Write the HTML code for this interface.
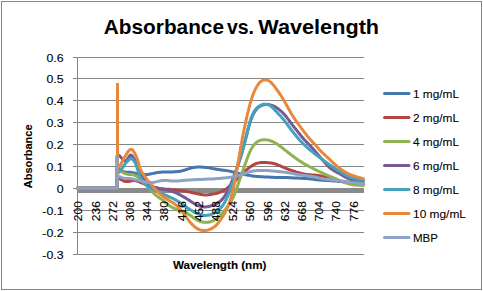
<!DOCTYPE html>
<html><head><meta charset="utf-8"><style>
html,body{margin:0;padding:0;background:#fff;width:483px;height:291px;overflow:hidden}
svg{display:block;font-family:"Liberation Sans", sans-serif}
</style></head><body>
<svg width="483" height="291" viewBox="0 0 483 291">
<rect x="0" y="0" width="483" height="291" fill="#fff"/>
<rect x="1.5" y="1.5" width="480" height="288" fill="none" stroke="#868686" stroke-width="1"/>
<line x1="73" y1="57.5" x2="364" y2="57.5" stroke="#868686" stroke-width="1"/>
<line x1="73" y1="78.5" x2="364" y2="78.5" stroke="#868686" stroke-width="1"/>
<line x1="73" y1="100.5" x2="364" y2="100.5" stroke="#868686" stroke-width="1"/>
<line x1="73" y1="122.5" x2="364" y2="122.5" stroke="#868686" stroke-width="1"/>
<line x1="73" y1="144.5" x2="364" y2="144.5" stroke="#868686" stroke-width="1"/>
<line x1="73" y1="166.5" x2="364" y2="166.5" stroke="#868686" stroke-width="1"/>
<line x1="73" y1="188.5" x2="364" y2="188.5" stroke="#868686" stroke-width="1"/>
<line x1="73" y1="210.5" x2="364" y2="210.5" stroke="#868686" stroke-width="1"/>
<line x1="73" y1="232.5" x2="364" y2="232.5" stroke="#868686" stroke-width="1"/>
<line x1="73" y1="254.5" x2="364" y2="254.5" stroke="#868686" stroke-width="1"/>
<line x1="77.5" y1="57" x2="77.5" y2="255" stroke="#868686" stroke-width="1"/>
<text transform="translate(63.5 61.5) scale(1.1 1)" font-size="11.2" text-anchor="end" fill="#000" stroke="#000" stroke-width="0.12">0.6</text>
<text transform="translate(63.5 82.5) scale(1.1 1)" font-size="11.2" text-anchor="end" fill="#000" stroke="#000" stroke-width="0.12">0.5</text>
<text transform="translate(63.5 104.5) scale(1.1 1)" font-size="11.2" text-anchor="end" fill="#000" stroke="#000" stroke-width="0.12">0.4</text>
<text transform="translate(63.5 126.5) scale(1.1 1)" font-size="11.2" text-anchor="end" fill="#000" stroke="#000" stroke-width="0.12">0.3</text>
<text transform="translate(63.5 148.5) scale(1.1 1)" font-size="11.2" text-anchor="end" fill="#000" stroke="#000" stroke-width="0.12">0.2</text>
<text transform="translate(63.5 170.5) scale(1.1 1)" font-size="11.2" text-anchor="end" fill="#000" stroke="#000" stroke-width="0.12">0.1</text>
<text transform="translate(63.5 192.5) scale(1.1 1)" font-size="11.2" text-anchor="end" fill="#000" stroke="#000" stroke-width="0.12">0</text>
<text transform="translate(63.5 214.5) scale(1.1 1)" font-size="11.2" text-anchor="end" fill="#000" stroke="#000" stroke-width="0.12">-0.1</text>
<text transform="translate(63.5 236.5) scale(1.1 1)" font-size="11.2" text-anchor="end" fill="#000" stroke="#000" stroke-width="0.12">-0.2</text>
<text transform="translate(63.5 258.5) scale(1.1 1)" font-size="11.2" text-anchor="end" fill="#000" stroke="#000" stroke-width="0.12">-0.3</text>
<rect x="78" y="188.0" width="286" height="5.0" fill="#8A8A8A"/>
<path d="M77.5 188 L117 188 L117 167 L118.5 168.0 119.2 168.7 120.2 169.6 121.2 170.3 122.2 171.0 123.2 171.5 124.2 171.9 125.2 172.1 126.2 172.2 127.2 172.3 128.2 172.3 129.2 172.3 130.2 172.3 131.2 172.4 132.2 172.6 133.2 172.8 134.2 173.0 135.2 173.2 136.2 173.4 137.2 173.6 138.2 173.8 139.2 174.0 140.2 174.2 141.2 174.4 142.2 174.5 143.2 174.6 144.2 174.7 145.2 174.7 146.2 174.6 147.2 174.5 148.2 174.4 149.2 174.2 150.2 174.0 151.2 173.8 152.2 173.6 153.2 173.4 154.2 173.2 155.2 173.0 156.2 172.8 157.2 172.6 158.2 172.5 159.2 172.3 160.2 172.2 161.2 172.2 162.2 172.1 163.2 172.0 164.2 172.0 165.2 172.0 166.2 172.0 167.2 171.9 168.2 171.9 169.2 171.9 170.2 171.9 171.2 171.9 172.2 171.9 173.2 171.8 174.2 171.8 175.2 171.8 176.2 171.7 177.2 171.6 178.2 171.5 179.2 171.4 180.2 171.2 181.2 171.0 182.2 170.7 183.2 170.5 184.2 170.2 185.2 169.9 186.2 169.5 187.2 169.2 188.2 168.9 189.2 168.6 190.2 168.3 191.2 168.0 192.2 167.8 193.2 167.6 194.2 167.4 195.2 167.3 196.2 167.2 197.2 167.1 198.2 167.1 199.2 167.1 200.2 167.1 201.2 167.1 202.2 167.2 203.2 167.2 204.2 167.3 205.2 167.4 206.2 167.5 207.2 167.6 208.2 167.7 209.2 167.9 210.2 168.1 211.2 168.3 212.2 168.4 213.2 168.6 214.2 168.8 215.2 169.0 216.2 169.2 217.2 169.3 218.2 169.5 219.2 169.6 220.2 169.8 221.2 169.9 222.2 170.0 223.2 170.2 224.2 170.3 225.2 170.4 226.2 170.6 227.2 170.7 228.2 170.9 229.2 171.1 230.2 171.3 231.2 171.5 232.2 171.8 233.2 172.0 234.2 172.2 235.2 172.5 236.2 172.7 237.2 172.9 238.2 173.2 239.2 173.4 240.2 173.6 241.2 173.8 242.2 174.0 243.2 174.2 244.2 174.4 245.2 174.6 246.2 174.8 247.2 175.0 248.2 175.2 249.2 175.4 250.2 175.6 251.2 175.7 252.2 175.9 253.2 176.0 254.2 176.2 255.2 176.3 256.2 176.4 257.2 176.5 258.2 176.6 259.2 176.6 260.2 176.7 261.2 176.7 262.2 176.8 263.2 176.8 264.2 176.9 265.2 176.9 266.2 177.0 267.2 177.0 268.2 177.1 269.2 177.1 270.2 177.2 271.2 177.2 272.2 177.3 273.2 177.3 274.2 177.4 275.2 177.4 276.2 177.4 277.2 177.4 278.2 177.5 279.2 177.5 280.2 177.5 281.2 177.5 282.2 177.5 283.2 177.5 284.2 177.6 285.2 177.6 286.2 177.6 287.2 177.6 288.2 177.6 289.2 177.7 290.2 177.7 291.2 177.8 292.2 177.8 293.2 177.9 294.2 177.9 295.2 177.9 296.2 178.0 297.2 178.1 298.2 178.1 299.2 178.2 300.2 178.2 301.2 178.3 302.2 178.3 303.2 178.4 304.2 178.4 305.2 178.5 306.2 178.5 307.2 178.6 308.2 178.7 309.2 178.8 310.2 178.9 311.2 179.0 312.2 179.1 313.2 179.3 314.2 179.4 315.2 179.5 316.2 179.7 317.2 179.8 318.2 179.9 319.2 180.0 320.2 180.0 321.2 180.1 322.2 180.2 323.2 180.2 324.2 180.3 325.2 180.4 326.2 180.4 327.2 180.5 328.2 180.5 329.2 180.6 330.2 180.7 331.2 180.7 332.2 180.8 333.2 180.9 334.2 181.0 335.2 181.0 336.2 181.1 337.2 181.2 338.2 181.3 339.2 181.4 340.2 181.5 341.2 181.6 342.2 181.7 343.2 181.8 344.2 181.9 345.2 182.1 346.2 182.2 347.2 182.3 348.2 182.4 349.2 182.5 350.2 182.6 351.2 182.7 352.2 182.8 353.2 182.9 354.2 183.1 355.2 183.2 356.2 183.3 357.2 183.4 358.2 183.5 359.2 183.6 360.2 183.7 361.2 183.8 362.2 183.9 363.2 184.0" fill="none" stroke="#4676B0" stroke-width="3" stroke-linejoin="round" stroke-linecap="round"/>
<path d="M77.5 188 L117 188 L117 178 L119.8 178.9 120.8 179.5 121.8 180.0 122.8 180.5 123.8 181.0 124.8 181.3 125.8 181.4 126.8 181.5 127.8 181.5 128.8 181.4 129.8 181.2 130.8 181.0 131.8 180.8 132.8 180.6 133.8 180.6 134.8 180.6 135.8 180.8 136.8 181.0 137.8 181.3 138.8 181.7 139.8 182.1 140.8 182.5 141.8 183.0 142.8 183.4 143.8 183.8 144.8 184.1 145.8 184.5 146.8 184.8 147.8 185.2 148.8 185.5 149.8 185.9 150.8 186.3 151.8 186.6 152.8 186.9 153.8 187.3 154.8 187.6 155.8 187.8 156.8 188.1 157.8 188.3 158.8 188.5 159.8 188.7 160.8 188.8 161.8 188.9 162.8 189.0 163.8 189.1 164.8 189.2 165.8 189.2 166.8 189.2 167.8 189.2 168.8 189.3 169.8 189.3 170.8 189.4 171.8 189.5 172.8 189.7 173.8 189.8 174.8 190.0 175.8 190.1 176.8 190.3 177.8 190.4 178.8 190.5 179.8 190.6 180.8 190.6 181.8 190.7 182.8 190.9 183.8 191.0 184.8 191.1 185.8 191.3 186.8 191.5 187.8 191.7 188.8 191.9 189.8 192.1 190.8 192.3 191.8 192.6 192.8 192.8 193.8 193.0 194.8 193.2 195.8 193.4 196.8 193.7 197.8 193.9 198.8 194.1 199.8 194.3 200.8 194.5 201.8 194.6 202.8 194.8 203.8 194.8 204.8 194.9 205.8 194.9 206.8 194.9 207.8 194.8 208.8 194.7 209.8 194.6 210.8 194.5 211.8 194.3 212.8 194.1 213.8 193.9 214.8 193.7 215.8 193.5 216.8 193.2 217.8 193.0 218.8 192.6 219.8 192.3 220.8 191.9 221.8 191.5 222.8 191.0 223.8 190.4 224.8 189.8 225.8 189.2 226.8 188.5 227.8 187.7 228.8 186.9 229.8 186.0 230.6 185.4 231.3 184.7 232.1 184.0 232.8 183.2 233.6 182.5 234.3 181.7 235.1 181.0 235.8 180.2 236.6 179.4 237.3 178.7 238.1 177.9 238.8 177.1 239.6 176.4 240.3 175.6 241.1 174.9 241.8 174.1 242.6 173.4 243.3 172.7 244.1 172.0 244.8 171.3 245.8 170.4 246.8 169.6 247.8 168.8 248.8 168.0 249.8 167.3 250.8 166.6 251.8 165.9 252.8 165.3 253.8 164.7 254.8 164.2 255.8 163.7 256.8 163.4 257.8 163.1 258.8 162.9 259.8 162.7 260.8 162.6 261.8 162.6 262.8 162.5 263.8 162.5 264.8 162.5 265.8 162.6 266.8 162.6 267.8 162.7 268.8 162.8 269.8 162.9 270.8 163.0 271.8 163.1 272.8 163.3 273.8 163.6 274.8 163.8 275.8 164.1 276.8 164.5 277.8 164.9 278.8 165.3 279.8 165.7 280.8 166.1 281.8 166.6 282.8 167.0 283.8 167.4 284.8 167.9 285.8 168.3 286.8 168.7 287.8 169.1 288.8 169.5 289.8 169.8 290.8 170.2 291.8 170.5 292.8 170.9 293.8 171.2 294.8 171.5 295.8 171.9 296.8 172.2 297.8 172.5 298.8 172.7 299.8 173.0 300.8 173.3 301.8 173.5 302.8 173.7 303.8 173.9 304.8 174.1 305.8 174.3 306.8 174.4 307.8 174.6 308.8 174.7 309.8 174.8 310.8 174.8 311.8 174.9 312.8 175.0 313.8 175.0 314.8 175.1 315.8 175.2 316.8 175.3 317.8 175.4 318.8 175.6 319.8 175.7 320.8 175.9 321.8 176.2 322.8 176.4 323.8 176.6 324.8 176.9 325.8 177.2 326.8 177.4 327.8 177.7 328.8 178.0 329.8 178.3 330.8 178.6 331.8 178.9 332.8 179.2 333.8 179.5 334.8 179.8 335.8 180.0 336.8 180.3 337.8 180.5 338.8 180.8 339.8 181.0 340.8 181.2 341.8 181.3 342.8 181.5 343.8 181.7 344.8 181.8 345.8 181.9 346.8 182.0 347.8 182.2 348.8 182.3 349.8 182.4 350.8 182.5 351.8 182.6 352.8 182.7 353.8 182.7 354.8 182.8 355.8 182.9 356.8 183.0 357.8 183.1 358.8 183.2 359.8 183.2 360.8 183.3 361.8 183.4 362.8 183.5 363.3 183.5" fill="none" stroke="#B44542" stroke-width="3" stroke-linejoin="round" stroke-linecap="round"/>
<path d="M77.5 188 L117 188 L117 169 L119.8 170.6 120.8 171.3 121.8 171.9 122.8 172.5 123.8 173.0 124.8 173.5 125.8 173.8 126.8 174.1 127.8 174.3 128.8 174.4 129.8 174.5 130.8 174.5 131.8 174.6 132.8 174.7 133.8 175.0 134.8 175.4 135.8 175.8 136.8 176.4 137.8 177.2 138.8 178.0 139.6 178.6 140.3 179.3 141.1 180.1 141.8 180.8 142.6 181.5 143.3 182.3 144.1 183.0 144.8 183.7 145.6 184.5 146.3 185.2 147.1 186.0 147.8 186.8 148.6 187.7 149.3 188.5 150.1 189.4 150.8 190.2 151.6 191.0 152.3 191.8 153.1 192.6 153.8 193.3 154.6 194.0 155.3 194.7 156.3 195.6 157.3 196.3 158.3 197.1 159.3 197.8 160.3 198.4 161.3 199.1 162.3 199.9 163.3 200.7 164.3 201.5 165.3 202.3 166.3 203.2 167.3 204.0 168.3 204.8 169.3 205.6 170.3 206.3 171.3 206.9 172.3 207.5 173.3 207.9 174.3 208.4 175.3 208.8 176.3 209.1 177.3 209.4 178.3 209.8 179.3 210.1 180.3 210.4 181.3 210.7 182.3 211.1 183.3 211.5 184.3 211.9 185.3 212.4 186.3 212.9 187.3 213.5 188.3 214.1 189.3 214.7 190.3 215.4 191.3 216.1 192.3 216.8 193.3 217.6 194.3 218.3 195.3 219.0 196.3 219.6 197.3 220.2 198.3 220.7 199.3 221.1 200.3 221.5 201.3 221.8 202.3 222.0 203.3 222.2 204.3 222.3 205.3 222.3 206.3 222.3 207.3 222.3 208.3 222.2 209.3 222.0 210.3 221.8 211.3 221.4 212.3 221.1 213.3 220.6 214.3 220.1 215.3 219.5 216.3 218.9 217.3 218.1 218.3 217.3 219.1 216.6 219.8 215.8 220.6 215.1 221.3 214.2 222.1 213.4 222.8 212.5 223.6 211.6 224.3 210.7 225.1 209.8 225.8 208.9 226.6 207.9 227.3 206.9 228.1 205.9 228.8 204.8 229.6 203.7 230.3 202.5 231.1 201.3 231.6 200.4 232.1 199.4 232.6 198.5 233.1 197.5 233.6 196.4 234.1 195.3 234.6 194.1 235.1 192.8 235.6 191.5 236.1 190.2 236.6 188.8 237.1 187.3 237.6 185.9 238.1 184.4 238.6 182.9 239.1 181.4 239.6 179.9 240.1 178.5 240.6 177.1 241.1 175.6 241.6 174.2 242.1 172.8 242.6 171.4 243.1 170.0 243.6 168.6 244.1 167.2 244.6 165.7 245.1 164.3 245.6 162.9 246.1 161.5 246.6 160.1 247.1 158.7 247.6 157.3 248.1 156.0 248.6 154.8 249.1 153.6 249.6 152.4 250.1 151.3 250.6 150.3 251.1 149.3 251.6 148.4 252.3 147.2 253.1 146.1 253.8 145.1 254.6 144.2 255.3 143.4 256.1 142.7 257.1 142.0 258.1 141.3 259.1 140.8 260.1 140.4 261.1 140.1 262.1 139.9 263.1 139.8 264.1 139.7 265.1 139.7 266.1 139.8 267.1 139.9 268.1 140.1 269.1 140.3 270.1 140.6 271.1 141.0 272.1 141.4 273.1 141.9 274.1 142.4 275.1 142.9 276.1 143.5 277.1 144.1 278.1 144.8 279.1 145.5 280.1 146.2 281.1 146.9 282.1 147.7 283.1 148.5 284.1 149.3 285.1 150.1 286.1 150.9 287.1 151.7 288.1 152.5 289.1 153.3 290.1 154.0 291.1 154.8 292.1 155.6 293.1 156.3 294.1 157.0 295.1 157.8 296.1 158.5 297.1 159.2 298.1 159.9 299.1 160.6 300.1 161.2 301.1 161.8 302.1 162.5 303.1 163.1 304.1 163.7 305.1 164.3 306.1 164.8 307.1 165.4 308.1 165.9 309.1 166.5 310.1 167.0 311.1 167.5 312.1 168.0 313.1 168.5 314.1 169.1 315.1 169.6 316.1 170.1 317.1 170.5 318.1 171.0 319.1 171.5 320.1 172.0 321.1 172.4 322.1 172.9 323.1 173.4 324.1 173.8 325.1 174.3 326.1 174.7 327.1 175.1 328.1 175.6 329.1 176.0 330.1 176.4 331.1 176.8 332.1 177.2 333.1 177.6 334.1 178.1 335.1 178.5 336.1 178.9 337.1 179.3 338.1 179.8 339.1 180.2 340.1 180.7 341.1 181.1 342.1 181.5 343.1 181.9 344.1 182.3 345.1 182.7 346.1 183.0 347.1 183.3 348.1 183.6 349.1 183.9 350.1 184.2 351.1 184.4 352.1 184.6 353.1 184.7 354.1 184.9 355.1 185.0 356.1 185.1 357.1 185.2 358.1 185.2 359.1 185.3 360.1 185.3 361.1 185.4 362.1 185.4 363.1 185.4 363.3 185.4" fill="none" stroke="#90B250" stroke-width="3" stroke-linejoin="round" stroke-linecap="round"/>
<path d="M77.5 188 L117 188 L117 156 L119.3 155.6 120.0 156.4 120.8 157.1 121.5 158.0 122.3 158.8 123.0 159.7 123.8 160.5 124.8 161.0 125.8 160.9 126.8 160.0 127.5 159.0 128.3 157.8 129.1 156.6 129.8 155.5 130.8 154.9 131.8 155.5 132.6 156.5 133.3 157.6 134.1 158.7 134.8 159.9 135.6 161.1 136.3 162.4 136.8 163.4 137.3 164.3 137.8 165.4 138.3 166.5 138.8 167.7 139.3 168.9 139.8 170.1 140.3 171.3 140.8 172.5 141.3 173.7 141.8 174.8 142.3 175.9 142.8 176.9 143.3 177.8 143.8 178.7 144.6 179.9 145.3 180.9 146.1 181.8 146.8 182.6 147.6 183.3 148.6 184.1 149.6 184.8 150.6 185.4 151.6 186.0 152.6 186.5 153.6 186.8 154.6 187.2 155.6 187.4 156.6 187.7 157.6 187.9 158.6 188.2 159.6 188.4 160.6 188.6 161.6 188.8 162.6 189.0 163.6 189.1 164.6 189.3 165.6 189.6 166.6 189.8 167.6 190.0 168.6 190.3 169.6 190.6 170.6 190.9 171.6 191.2 172.6 191.6 173.6 191.9 174.6 192.3 175.6 192.7 176.6 193.2 177.6 193.6 178.6 194.1 179.6 194.6 180.6 195.1 181.6 195.7 182.6 196.3 183.6 196.8 184.6 197.4 185.6 198.0 186.6 198.7 187.6 199.3 188.6 199.9 189.6 200.6 190.6 201.3 191.6 201.9 192.6 202.6 193.6 203.2 194.6 203.8 195.6 204.4 196.6 204.9 197.6 205.3 198.6 205.7 199.6 206.1 200.6 206.4 201.6 206.6 202.6 206.7 203.6 206.8 204.6 206.9 205.6 206.9 206.6 206.8 207.6 206.7 208.6 206.5 209.6 206.3 210.6 206.0 211.6 205.8 212.6 205.4 213.6 205.1 214.6 204.7 215.6 204.2 216.6 203.7 217.6 203.1 218.6 202.5 219.6 201.8 220.6 200.9 221.3 200.2 222.1 199.5 222.8 198.6 223.6 197.7 224.3 196.7 225.1 195.6 225.8 194.4 226.6 193.1 227.1 192.2 227.6 191.2 228.1 190.2 228.6 189.1 229.1 188.0 229.6 186.9 230.1 185.7 230.6 184.5 231.1 183.3 231.6 182.0 232.1 180.8 232.6 179.5 233.1 178.2 233.6 176.8 234.1 175.5 234.6 174.2 235.1 172.8 235.6 171.5 236.1 170.2 236.6 168.9 237.1 167.5 237.6 166.2 238.1 164.8 238.6 163.4 239.1 161.9 239.6 160.4 240.1 158.9 240.6 157.3 241.1 155.7 241.6 154.0 242.1 152.2 242.6 150.4 243.1 148.5 243.6 146.6 244.1 144.7 244.3 143.7 244.6 142.7 244.8 141.7 245.1 140.7 245.3 139.8 245.6 138.8 245.8 137.8 246.1 136.8 246.3 135.8 246.6 134.9 247.1 132.9 247.6 131.1 248.1 129.2 248.6 127.4 249.1 125.7 249.6 124.0 250.1 122.4 250.6 120.9 251.1 119.5 251.6 118.2 252.1 117.0 252.6 115.8 253.1 114.7 253.6 113.7 254.1 112.8 254.8 111.5 255.6 110.4 256.3 109.4 257.1 108.6 257.8 107.8 258.8 107.0 259.8 106.3 260.8 105.8 261.8 105.3 262.8 105.0 263.8 104.7 264.8 104.6 265.8 104.5 266.8 104.4 267.8 104.5 268.8 104.6 269.8 104.8 270.8 105.1 271.8 105.4 272.8 105.7 273.8 106.2 274.8 106.7 275.8 107.2 276.8 107.9 277.8 108.6 278.8 109.3 279.8 110.1 280.8 111.0 281.6 111.6 282.3 112.3 283.1 113.1 283.8 113.9 284.6 114.7 285.3 115.5 286.1 116.4 286.8 117.4 287.6 118.4 288.3 119.4 289.1 120.4 289.8 121.5 290.6 122.5 291.3 123.5 292.1 124.5 292.8 125.5 293.6 126.4 294.3 127.4 295.1 128.3 295.8 129.3 296.6 130.2 297.3 131.1 298.1 132.1 298.8 133.0 299.6 134.0 300.3 134.9 301.1 135.8 301.8 136.8 302.6 137.6 303.3 138.5 304.1 139.4 304.8 140.2 305.6 141.0 306.3 141.8 307.1 142.5 307.8 143.3 308.6 144.1 309.3 144.8 310.1 145.6 310.8 146.4 311.6 147.2 312.3 148.0 313.1 148.9 313.8 149.7 314.6 150.6 315.3 151.5 316.1 152.4 316.8 153.3 317.6 154.2 318.3 155.1 319.1 156.0 319.8 156.9 320.6 157.7 321.3 158.6 322.1 159.4 322.8 160.2 323.6 161.1 324.3 161.9 325.1 162.7 325.8 163.6 326.6 164.4 327.3 165.3 328.1 166.1 328.8 166.8 329.6 167.5 330.6 168.4 331.6 169.1 332.6 169.8 333.6 170.4 334.6 171.0 335.6 171.6 336.6 172.1 337.6 172.7 338.6 173.2 339.6 173.7 340.6 174.3 341.6 174.9 342.6 175.5 343.6 176.1 344.6 176.6 345.6 177.2 346.6 177.7 347.6 178.2 348.6 178.7 349.6 179.1 350.6 179.4 351.6 179.8 352.6 180.0 353.6 180.3 354.6 180.4 355.6 180.6 356.6 180.7 357.6 180.8 358.6 180.9 359.6 181.0 360.6 181.0 361.6 181.1 362.6 181.1 363.3 181.1" fill="none" stroke="#765A98" stroke-width="3" stroke-linejoin="round" stroke-linecap="round"/>
<path d="M77.5 188 L117 188 L117 171 L119.0 172.3 119.8 171.4 120.5 170.5 121.2 169.5 122.0 168.5 122.8 167.4 123.5 166.3 124.2 165.1 125.0 164.0 125.8 163.1 126.5 162.2 127.2 161.4 128.0 160.6 128.8 159.9 129.5 159.2 130.5 158.6 131.5 158.6 132.5 159.3 133.2 160.1 134.0 161.0 134.8 162.1 135.2 163.0 135.8 164.1 136.2 165.4 136.8 166.8 137.2 168.4 137.8 170.1 138.2 171.7 138.8 173.2 139.2 174.5 139.8 175.8 140.2 176.9 140.8 178.0 141.2 178.9 141.8 179.8 142.5 180.9 143.2 182.0 144.0 182.9 144.8 183.7 145.5 184.5 146.2 185.1 147.2 186.0 148.2 186.7 149.2 187.4 150.2 188.0 151.2 188.5 152.2 189.1 153.2 189.6 154.2 190.0 155.2 190.5 156.2 190.9 157.2 191.4 158.2 191.9 159.2 192.3 160.2 192.8 161.2 193.3 162.2 193.8 163.2 194.2 164.2 194.7 165.2 195.1 166.2 195.5 167.2 195.9 168.2 196.4 169.2 196.8 170.2 197.3 171.2 197.7 172.2 198.2 173.2 198.7 174.2 199.2 175.2 199.8 176.2 200.3 177.2 200.9 178.2 201.5 179.2 202.1 180.2 202.8 181.2 203.5 182.2 204.1 183.2 204.8 184.2 205.5 185.2 206.3 186.2 207.0 187.2 207.7 188.2 208.4 189.2 209.0 190.2 209.7 191.2 210.3 192.2 210.9 193.2 211.5 194.2 212.0 195.2 212.6 196.2 213.1 197.2 213.5 198.2 214.0 199.2 214.4 200.2 214.7 201.2 215.0 202.2 215.2 203.2 215.3 204.2 215.4 205.2 215.4 206.2 215.4 207.2 215.3 208.2 215.2 209.2 215.0 210.2 214.8 211.2 214.5 212.2 214.1 213.2 213.7 214.2 213.2 215.2 212.7 216.2 212.0 217.2 211.3 218.2 210.5 219.0 209.8 219.8 209.1 220.5 208.3 221.2 207.4 222.0 206.5 222.8 205.4 223.5 204.3 224.2 203.1 224.8 202.2 225.2 201.3 225.8 200.3 226.2 199.3 226.8 198.2 227.2 197.1 227.8 196.0 228.2 194.8 228.8 193.5 229.2 192.2 229.8 190.8 230.2 189.4 230.8 188.0 231.2 186.6 231.8 185.1 232.2 183.6 232.8 182.1 233.2 180.6 233.8 179.0 234.2 177.4 234.8 175.8 235.2 174.1 235.8 172.5 236.2 170.8 236.8 169.0 237.2 167.3 237.8 165.6 238.2 163.8 238.8 162.1 239.2 160.4 239.8 158.8 240.2 157.1 240.8 155.5 241.2 153.9 241.8 152.4 242.2 150.8 242.8 149.2 243.2 147.6 243.8 146.0 244.2 144.3 244.8 142.5 245.2 140.6 245.8 138.7 246.0 137.7 246.2 136.7 246.5 135.6 246.8 134.6 247.0 133.6 247.2 132.5 247.5 131.5 247.8 130.4 248.0 129.4 248.2 128.3 248.5 127.3 248.8 126.3 249.0 125.3 249.5 123.5 250.0 121.7 250.5 120.0 251.0 118.5 251.5 117.1 252.0 115.8 252.5 114.7 253.0 113.6 253.5 112.6 254.0 111.7 254.8 110.6 255.5 109.6 256.2 108.7 257.0 107.9 257.8 107.3 258.8 106.5 259.8 105.9 260.8 105.3 261.8 104.9 262.8 104.5 263.8 104.3 264.8 104.2 265.8 104.2 266.8 104.3 267.8 104.6 268.8 105.0 269.8 105.5 270.8 106.1 271.8 106.9 272.5 107.6 273.2 108.3 274.0 109.1 274.8 109.9 275.5 110.7 276.2 111.5 277.0 112.3 277.8 113.1 278.5 113.9 279.2 114.7 280.0 115.5 280.8 116.3 281.5 117.1 282.2 118.0 283.0 118.9 283.8 119.8 284.5 120.7 285.2 121.7 286.0 122.7 286.8 123.7 287.5 124.7 288.2 125.8 289.0 126.8 289.8 127.8 290.5 128.8 291.2 129.8 292.0 130.8 292.8 131.7 293.5 132.7 294.2 133.6 295.0 134.6 295.8 135.5 296.5 136.4 297.2 137.3 298.0 138.2 298.8 139.0 299.5 139.9 300.2 140.7 301.0 141.5 301.8 142.3 302.5 143.1 303.2 143.8 304.0 144.6 304.8 145.3 305.5 146.0 306.2 146.7 307.0 147.4 307.8 148.0 308.8 148.9 309.8 149.8 310.8 150.6 311.8 151.4 312.8 152.2 313.8 153.0 314.8 153.8 315.8 154.6 316.8 155.4 317.8 156.1 318.8 156.9 319.8 157.6 320.8 158.3 321.8 159.1 322.8 159.8 323.8 160.5 324.8 161.2 325.8 162.0 326.8 162.7 327.8 163.4 328.8 164.2 329.8 164.9 330.8 165.6 331.8 166.3 332.8 167.1 333.8 167.8 334.8 168.4 335.8 169.1 336.8 169.7 337.8 170.4 338.8 171.0 339.8 171.6 340.8 172.2 341.8 172.8 342.8 173.4 343.8 174.0 344.8 174.6 345.8 175.1 346.8 175.7 347.8 176.2 348.8 176.7 349.8 177.1 350.8 177.5 351.8 177.9 352.8 178.2 353.8 178.5 354.8 178.8 355.8 179.0 356.8 179.2 357.8 179.4 358.8 179.6 359.8 179.7 360.8 179.8 361.8 180.0 362.8 180.1 363.2 180.1" fill="none" stroke="#43A2BC" stroke-width="3" stroke-linejoin="round" stroke-linecap="round"/>
<path d="M77.5 188 L117 188 L117.5 166 L119.3 166.5 120.0 165.3 120.8 164.1 121.3 163.2 121.8 162.3 122.3 161.3 122.8 160.4 123.3 159.5 124.0 158.2 124.8 157.0 125.5 155.7 126.3 154.4 127.0 153.2 127.8 152.0 128.6 151.0 129.3 150.2 130.3 149.4 131.3 149.3 132.3 149.8 133.1 150.6 133.8 151.7 134.6 153.0 135.1 153.9 135.6 154.9 136.1 156.0 136.6 157.2 137.1 158.5 137.6 160.0 138.1 161.6 138.6 163.3 139.1 165.1 139.6 166.7 140.1 168.2 140.6 169.5 141.1 170.6 141.6 171.6 142.1 172.5 142.8 173.6 143.6 174.7 144.3 175.8 145.1 176.8 145.8 177.8 146.6 178.8 147.3 179.9 148.1 180.9 148.8 181.8 149.6 182.7 150.3 183.5 151.1 184.4 151.8 185.2 152.6 186.1 153.3 186.9 154.1 187.8 154.8 188.7 155.6 189.6 156.3 190.4 157.1 191.2 157.8 192.0 158.6 192.7 159.3 193.4 160.1 194.1 161.1 194.9 162.1 195.7 163.1 196.5 164.1 197.2 165.1 197.9 166.1 198.6 167.1 199.2 168.1 199.9 169.1 200.5 170.1 201.1 171.1 201.7 172.1 202.3 173.1 202.9 174.1 203.6 175.1 204.3 176.1 205.1 177.1 206.0 177.8 206.7 178.6 207.5 179.3 208.3 180.1 209.2 180.8 210.1 181.6 211.0 182.3 212.0 183.1 212.9 183.8 213.9 184.6 215.0 185.3 216.0 186.1 217.0 186.8 218.0 187.6 219.0 188.3 220.0 189.1 220.9 189.8 221.9 190.6 222.7 191.3 223.6 192.1 224.4 192.8 225.1 193.6 225.8 194.3 226.5 195.3 227.3 196.3 228.0 197.3 228.7 198.3 229.2 199.3 229.6 200.3 230.0 201.3 230.3 202.3 230.5 203.3 230.6 204.3 230.6 205.3 230.5 206.3 230.4 207.3 230.2 208.3 229.9 209.3 229.5 210.3 229.1 211.3 228.7 212.3 228.1 213.3 227.5 214.3 226.8 215.3 226.0 216.1 225.3 216.8 224.6 217.6 223.8 218.3 222.9 219.1 222.0 219.8 221.0 220.6 219.9 221.3 218.8 222.1 217.6 222.8 216.4 223.6 215.1 224.1 214.2 224.6 213.3 225.1 212.3 225.6 211.3 226.1 210.3 226.6 209.3 227.1 208.2 227.6 207.1 228.1 205.9 228.6 204.6 229.1 203.3 229.6 201.9 230.1 200.4 230.6 198.9 231.1 197.2 231.6 195.4 232.1 193.6 232.3 192.6 232.6 191.6 232.8 190.5 233.1 189.5 233.3 188.4 233.6 187.3 233.8 186.1 234.1 184.9 234.3 183.7 234.6 182.4 234.8 181.2 235.1 179.9 235.3 178.5 235.6 177.2 235.8 175.8 236.1 174.4 236.3 172.9 236.6 171.5 236.8 170.0 237.1 168.6 237.3 167.1 237.6 165.6 237.8 164.1 238.1 162.6 238.3 161.1 238.6 159.7 238.8 158.2 239.1 156.7 239.3 155.3 239.6 153.8 239.8 152.4 240.1 151.0 240.3 149.5 240.6 148.1 240.8 146.7 241.1 145.3 241.3 143.9 241.6 142.5 241.8 141.2 242.1 139.8 242.3 138.5 242.6 137.2 242.8 135.9 243.1 134.6 243.3 133.3 243.6 132.0 243.8 130.8 244.1 129.6 244.3 128.3 244.6 127.1 244.8 126.0 245.1 124.8 245.3 123.6 245.6 122.5 245.8 121.3 246.1 120.2 246.3 119.1 246.6 118.0 246.8 116.9 247.1 115.8 247.3 114.8 247.6 113.7 247.8 112.7 248.1 111.6 248.3 110.6 248.6 109.6 248.8 108.7 249.3 106.7 249.8 104.9 250.3 103.1 250.8 101.4 251.3 99.7 251.8 98.2 252.3 96.7 252.8 95.3 253.3 93.9 253.8 92.7 254.3 91.5 254.8 90.3 255.3 89.3 255.8 88.3 256.3 87.3 256.8 86.5 257.6 85.3 258.3 84.2 259.1 83.3 259.8 82.4 260.6 81.8 261.6 81.0 262.6 80.4 263.6 80.1 264.6 79.9 265.6 79.9 266.6 80.0 267.6 80.3 268.6 80.7 269.6 81.3 270.6 82.1 271.3 82.8 272.1 83.5 272.8 84.4 273.6 85.3 274.3 86.2 275.1 87.2 275.8 88.3 276.6 89.3 277.3 90.3 278.1 91.4 278.8 92.5 279.6 93.6 280.3 94.7 281.1 95.8 281.8 97.0 282.6 98.2 283.3 99.4 284.1 100.7 284.6 101.6 285.1 102.5 285.6 103.4 286.1 104.3 286.6 105.2 287.1 106.1 287.6 107.0 288.1 107.9 288.6 108.8 289.1 109.7 289.6 110.6 290.1 111.5 290.8 112.8 291.6 114.0 292.3 115.2 293.1 116.4 293.8 117.6 294.6 118.7 295.3 119.8 296.1 120.9 296.8 122.0 297.6 123.1 298.3 124.1 299.1 125.1 299.8 126.1 300.6 127.1 301.3 128.1 302.1 129.1 302.8 130.1 303.6 131.1 304.3 132.1 305.1 133.1 305.8 134.1 306.6 135.0 307.3 136.0 308.1 136.9 308.8 137.8 309.6 138.7 310.3 139.5 311.1 140.3 311.8 141.1 312.6 141.9 313.3 142.7 314.1 143.5 314.8 144.4 315.6 145.2 316.3 146.0 317.1 146.9 317.8 147.7 318.6 148.6 319.3 149.5 320.1 150.3 320.8 151.1 321.6 151.9 322.3 152.6 323.1 153.3 323.8 154.0 324.6 154.7 325.3 155.4 326.1 156.1 326.8 156.8 327.6 157.5 328.3 158.2 329.1 158.9 329.8 159.6 330.6 160.3 331.3 161.0 332.1 161.8 332.8 162.5 333.6 163.2 334.3 163.9 335.1 164.6 336.1 165.4 337.1 166.3 338.1 167.1 339.1 167.8 340.1 168.6 341.1 169.3 342.1 170.1 343.1 170.7 344.1 171.4 345.1 172.0 346.1 172.6 347.1 173.1 348.1 173.6 349.1 174.1 350.1 174.5 351.1 174.9 352.1 175.3 353.1 175.7 354.1 176.0 355.1 176.3 356.1 176.6 357.1 176.9 358.1 177.1 359.1 177.4 360.1 177.6 361.1 177.9 362.1 178.1 363.1 178.4 363.3 178.4" fill="none" stroke="#E8883C" stroke-width="3" stroke-linejoin="round" stroke-linecap="round"/>
<rect x="116" y="83" width="3" height="90" fill="#E8883C"/>
<path d="M77.5 188 L117 188 L117 157 L117 176 L119.0 176.4 120.0 176.8 121.0 177.2 122.0 177.6 123.0 177.9 124.0 178.1 125.0 178.3 126.0 178.4 127.0 178.4 128.0 178.5 129.0 178.5 130.0 178.6 131.0 178.7 132.0 178.9 133.0 179.1 134.0 179.3 135.0 179.6 136.0 179.8 137.0 180.1 138.0 180.4 139.0 180.6 140.0 180.9 141.0 181.1 142.0 181.3 143.0 181.5 144.0 181.7 145.0 181.9 146.0 182.1 147.0 182.3 148.0 182.4 149.0 182.5 150.0 182.5 151.0 182.5 152.0 182.5 153.0 182.4 154.0 182.3 155.0 182.1 156.0 181.9 157.0 181.6 158.0 181.4 159.0 181.1 160.0 180.9 161.0 180.7 162.0 180.6 163.0 180.4 164.0 180.4 165.0 180.4 166.0 180.4 167.0 180.5 168.0 180.6 169.0 180.7 170.0 180.8 171.0 180.9 172.0 181.0 173.0 181.1 174.0 181.1 175.0 181.1 176.0 181.1 177.0 181.1 178.0 181.0 179.0 180.9 180.0 180.8 181.0 180.7 182.0 180.6 183.0 180.5 184.0 180.4 185.0 180.3 186.0 180.2 187.0 180.2 188.0 180.1 189.0 180.0 190.0 180.0 191.0 179.9 192.0 179.8 193.0 179.8 194.0 179.7 195.0 179.7 196.0 179.6 197.0 179.6 198.0 179.5 199.0 179.5 200.0 179.5 201.0 179.4 202.0 179.4 203.0 179.3 204.0 179.3 205.0 179.2 206.0 179.2 207.0 179.1 208.0 179.1 209.0 179.1 210.0 179.0 211.0 179.0 212.0 178.9 213.0 178.9 214.0 178.8 215.0 178.8 216.0 178.7 217.0 178.6 218.0 178.6 219.0 178.5 220.0 178.4 221.0 178.3 222.0 178.2 223.0 178.1 224.0 178.0 225.0 177.9 226.0 177.8 227.0 177.7 228.0 177.5 229.0 177.4 230.0 177.3 231.0 177.2 232.0 177.0 233.0 176.9 234.0 176.7 235.0 176.5 236.0 176.2 237.0 176.0 238.0 175.7 239.0 175.4 240.0 175.1 241.0 174.8 242.0 174.5 243.0 174.1 244.0 173.7 245.0 173.4 246.0 173.0 247.0 172.7 248.0 172.3 249.0 172.0 250.0 171.7 251.0 171.5 252.0 171.2 253.0 171.0 254.0 170.9 255.0 170.8 256.0 170.7 257.0 170.6 258.0 170.6 259.0 170.5 260.0 170.5 261.0 170.5 262.0 170.4 263.0 170.5 264.0 170.5 265.0 170.5 266.0 170.5 267.0 170.6 268.0 170.6 269.0 170.7 270.0 170.8 271.0 170.8 272.0 170.9 273.0 171.0 274.0 171.1 275.0 171.2 276.0 171.3 277.0 171.4 278.0 171.5 279.0 171.6 280.0 171.7 281.0 171.8 282.0 171.9 283.0 172.0 284.0 172.1 285.0 172.3 286.0 172.4 287.0 172.6 288.0 172.7 289.0 172.9 290.0 173.0 291.0 173.2 292.0 173.4 293.0 173.6 294.0 173.8 295.0 174.0 296.0 174.2 297.0 174.4 298.0 174.6 299.0 174.7 300.0 174.9 301.0 175.0 302.0 175.2 303.0 175.3 304.0 175.4 305.0 175.5 306.0 175.6 307.0 175.7 308.0 175.9 309.0 176.0 310.0 176.2 311.0 176.3 312.0 176.5 313.0 176.7 314.0 176.9 315.0 177.1 316.0 177.3 317.0 177.5 318.0 177.7 319.0 178.0 320.0 178.2 321.0 178.4 322.0 178.6 323.0 178.7 324.0 178.9 325.0 179.1 326.0 179.2 327.0 179.4 328.0 179.5 329.0 179.6 330.0 179.7 331.0 179.8 332.0 179.9 333.0 180.0 334.0 180.1 335.0 180.2 336.0 180.3 337.0 180.4 338.0 180.5 339.0 180.7 340.0 180.8 341.0 180.9 342.0 181.1 343.0 181.2 344.0 181.4 345.0 181.5 346.0 181.7 347.0 181.8 348.0 182.0 349.0 182.1 350.0 182.2 351.0 182.4 352.0 182.5 353.0 182.6 354.0 182.7 355.0 182.8 356.0 182.9 357.0 183.0 358.0 183.1 359.0 183.2 360.0 183.3 361.0 183.4 362.0 183.5 363.0 183.6 363.2 183.6" fill="none" stroke="#8CA2C6" stroke-width="3" stroke-linejoin="round" stroke-linecap="round"/>
<text transform="translate(82.3 211.2) rotate(-90) scale(1.08 1)" font-size="11.2" text-anchor="middle" fill="#000" stroke="#000" stroke-width="0.12">200</text>
<text transform="translate(99.5 211.2) rotate(-90) scale(1.08 1)" font-size="11.2" text-anchor="middle" fill="#000" stroke="#000" stroke-width="0.12">236</text>
<text transform="translate(116.7 211.2) rotate(-90) scale(1.08 1)" font-size="11.2" text-anchor="middle" fill="#000" stroke="#000" stroke-width="0.12">272</text>
<text transform="translate(133.9 211.2) rotate(-90) scale(1.08 1)" font-size="11.2" text-anchor="middle" fill="#000" stroke="#000" stroke-width="0.12">308</text>
<text transform="translate(151.1 211.2) rotate(-90) scale(1.08 1)" font-size="11.2" text-anchor="middle" fill="#000" stroke="#000" stroke-width="0.12">344</text>
<text transform="translate(168.3 211.2) rotate(-90) scale(1.08 1)" font-size="11.2" text-anchor="middle" fill="#000" stroke="#000" stroke-width="0.12">380</text>
<text transform="translate(185.5 211.2) rotate(-90) scale(1.08 1)" font-size="11.2" text-anchor="middle" fill="#000" stroke="#000" stroke-width="0.12">416</text>
<text transform="translate(202.7 211.2) rotate(-90) scale(1.08 1)" font-size="11.2" text-anchor="middle" fill="#000" stroke="#000" stroke-width="0.12">452</text>
<text transform="translate(219.9 211.2) rotate(-90) scale(1.08 1)" font-size="11.2" text-anchor="middle" fill="#000" stroke="#000" stroke-width="0.12">488</text>
<text transform="translate(237.1 211.2) rotate(-90) scale(1.08 1)" font-size="11.2" text-anchor="middle" fill="#000" stroke="#000" stroke-width="0.12">524</text>
<text transform="translate(254.3 211.2) rotate(-90) scale(1.08 1)" font-size="11.2" text-anchor="middle" fill="#000" stroke="#000" stroke-width="0.12">560</text>
<text transform="translate(271.5 211.2) rotate(-90) scale(1.08 1)" font-size="11.2" text-anchor="middle" fill="#000" stroke="#000" stroke-width="0.12">596</text>
<text transform="translate(288.7 211.2) rotate(-90) scale(1.08 1)" font-size="11.2" text-anchor="middle" fill="#000" stroke="#000" stroke-width="0.12">632</text>
<text transform="translate(305.9 211.2) rotate(-90) scale(1.08 1)" font-size="11.2" text-anchor="middle" fill="#000" stroke="#000" stroke-width="0.12">668</text>
<text transform="translate(323.1 211.2) rotate(-90) scale(1.08 1)" font-size="11.2" text-anchor="middle" fill="#000" stroke="#000" stroke-width="0.12">704</text>
<text transform="translate(340.3 211.2) rotate(-90) scale(1.08 1)" font-size="11.2" text-anchor="middle" fill="#000" stroke="#000" stroke-width="0.12">740</text>
<text transform="translate(357.5 211.2) rotate(-90) scale(1.08 1)" font-size="11.2" text-anchor="middle" fill="#000" stroke="#000" stroke-width="0.12">776</text>
<text x="103.8" y="33.7" font-size="20.8" font-weight="bold" textLength="120.2" lengthAdjust="spacingAndGlyphs" fill="#000" stroke="#000" stroke-width="0">Absorbance</text>
<text x="227" y="33.7" font-size="20.8" font-weight="bold" textLength="27" lengthAdjust="spacingAndGlyphs" fill="#000" stroke="#000" stroke-width="0">vs.</text>
<text x="258.3" y="33.7" font-size="20.8" font-weight="bold" textLength="120.8" lengthAdjust="spacingAndGlyphs" fill="#000" stroke="#000" stroke-width="0">Wavelength</text>
<text x="173" y="269.2" font-size="11.4" font-weight="bold" textLength="93.5" lengthAdjust="spacingAndGlyphs" fill="#000" stroke="#000" stroke-width="0.1">Wavelength (nm)</text>
<text transform="translate(32.3 156.3) rotate(-90)" font-size="11.4" font-weight="bold" textLength="64" lengthAdjust="spacingAndGlyphs" text-anchor="middle" fill="#000" stroke="#000" stroke-width="0.1">Absorbance</text>
<line x1="384.5" y1="93.5" x2="409" y2="93.5" stroke="#4676B0" stroke-width="3" stroke-linecap="round"/>
<text x="413" y="97.5" font-size="10.8" fill="#000" stroke="#000" stroke-width="0.08" textLength="46" lengthAdjust="spacingAndGlyphs">1 mg/mL</text>
<line x1="384.5" y1="117.5" x2="409" y2="117.5" stroke="#B44542" stroke-width="3" stroke-linecap="round"/>
<text x="413" y="121.5" font-size="10.8" fill="#000" stroke="#000" stroke-width="0.08" textLength="46" lengthAdjust="spacingAndGlyphs">2 mg/mL</text>
<line x1="384.5" y1="141.5" x2="409" y2="141.5" stroke="#90B250" stroke-width="3" stroke-linecap="round"/>
<text x="413" y="145.5" font-size="10.8" fill="#000" stroke="#000" stroke-width="0.08" textLength="46" lengthAdjust="spacingAndGlyphs">4 mg/mL</text>
<line x1="384.5" y1="165.5" x2="409" y2="165.5" stroke="#765A98" stroke-width="3" stroke-linecap="round"/>
<text x="413" y="169.5" font-size="10.8" fill="#000" stroke="#000" stroke-width="0.08" textLength="46" lengthAdjust="spacingAndGlyphs">6 mg/mL</text>
<line x1="384.5" y1="189.5" x2="409" y2="189.5" stroke="#43A2BC" stroke-width="3" stroke-linecap="round"/>
<text x="413" y="193.5" font-size="10.8" fill="#000" stroke="#000" stroke-width="0.08" textLength="46" lengthAdjust="spacingAndGlyphs">8 mg/mL</text>
<line x1="384.5" y1="213.5" x2="409" y2="213.5" stroke="#E8883C" stroke-width="3" stroke-linecap="round"/>
<text x="413" y="217.5" font-size="10.8" fill="#000" stroke="#000" stroke-width="0.08" textLength="53" lengthAdjust="spacingAndGlyphs">10 mg/mL</text>
<line x1="384.5" y1="237.5" x2="409" y2="237.5" stroke="#8CA2C6" stroke-width="3" stroke-linecap="round"/>
<text x="413" y="241.5" font-size="10.8" fill="#000" stroke="#000" stroke-width="0.08" textLength="25" lengthAdjust="spacingAndGlyphs">MBP</text>
</svg>
</body></html>
